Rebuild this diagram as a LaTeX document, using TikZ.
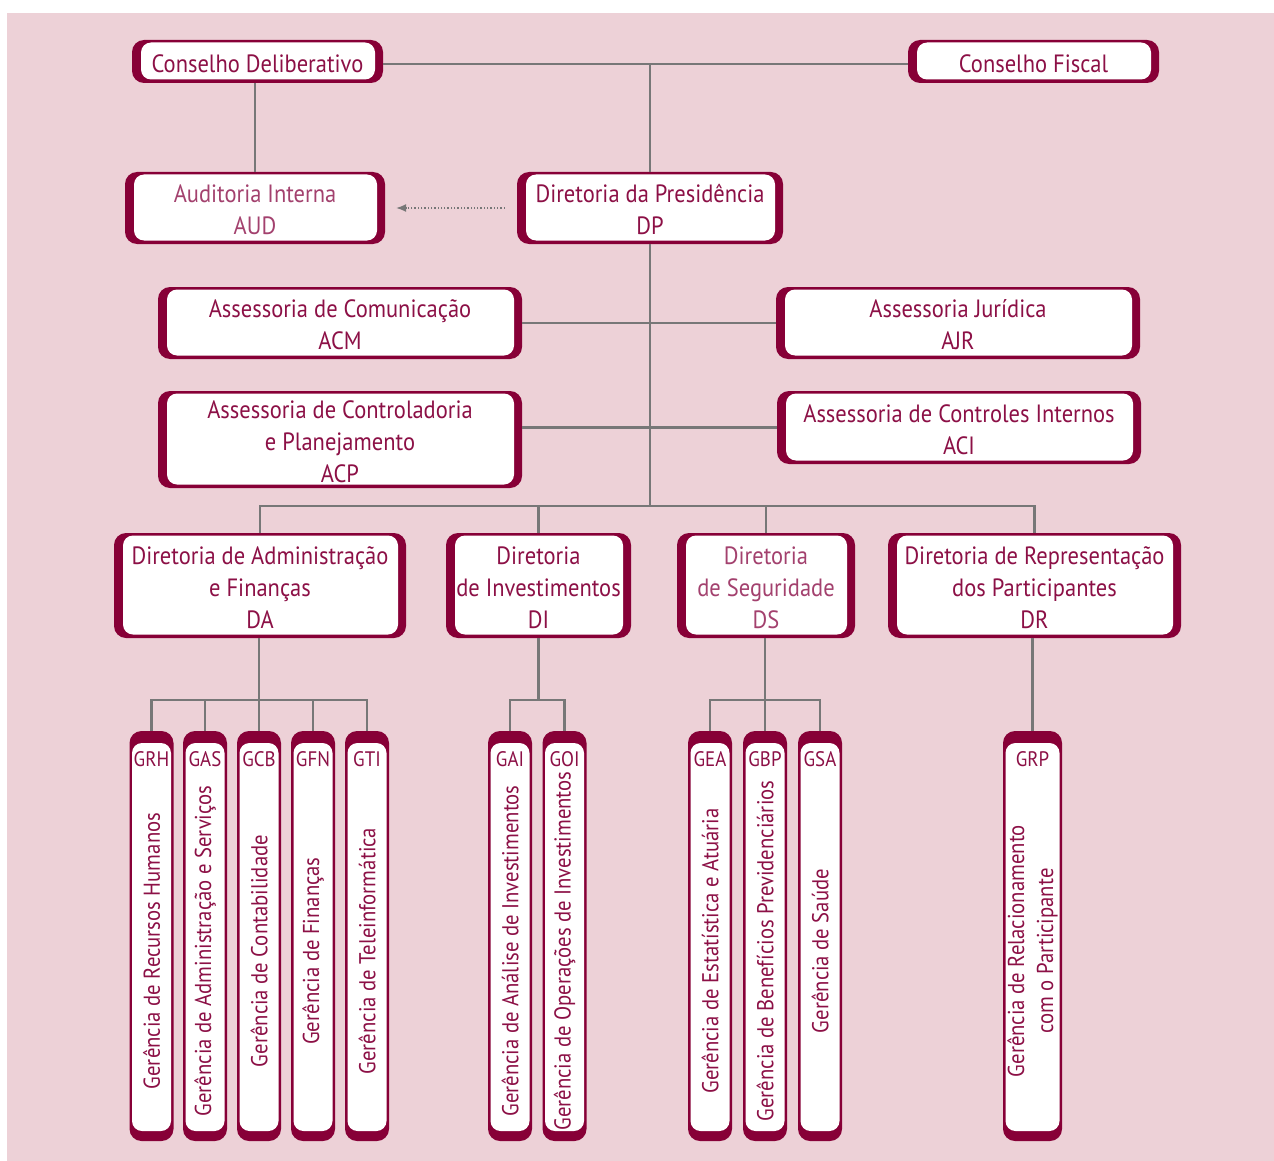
\documentclass[tikz,border=0pt]{standalone}
\usepackage{fontspec}
\setmainfont{PT Sans}[FakeStretch=0.9]
\usetikzlibrary{arrows.meta}
\definecolor{bgpink}{HTML}{EDD1D7}
\definecolor{boxred}{HTML}{870037}
\definecolor{txtred}{HTML}{8C1046}
\definecolor{txtlight}{HTML}{A3416E}
\definecolor{linegray}{HTML}{777777}
\newcommand{\topstrut}{\rule{0pt}{22pt}}
\tikzset{
  box/.style={fill=boxred, rounded corners=12pt, inner sep=0pt, align=center, text=txtred,
    font=\fontsize{25}{32}\selectfont,
    path picture={\fill[white, rounded corners=10pt]
      ([xshift=9pt,yshift=-2.5pt]path picture bounding box.north west) rectangle
      ([xshift=-8pt,yshift=3.5pt]path picture bounding box.south east);}},
  vbox/.style={fill=boxred, rounded corners=12pt, inner sep=0pt, minimum height=410pt, minimum width=44pt,
    path picture={\fill[white, rounded corners=10pt]
      ([xshift=2.5pt,yshift=-12pt]path picture bounding box.north west) rectangle
      ([xshift=-2.5pt,yshift=10pt]path picture bounding box.south east);}},
  abbr/.style={text=txtred, font=\fontsize{21}{24}\selectfont, inner sep=0pt, anchor=base},
  vtext/.style={text=txtred, font=\fontsize{23}{29}\selectfont, inner sep=0pt, rotate=90, align=center},
  conn/.style={draw=linegray, line width=2.2pt},
  dotarrow/.style={draw=linegray, line width=1.3pt, dotted, -{Latex[length=10pt,width=8pt]}},
}
\begin{document}
\begin{tikzpicture}[x=1pt,y=-1pt]
\useasboundingbox (0,0) rectangle (1274,1161);
\fill[bgpink] (7,13) rectangle (1274,1161);

% top level
\node[box, minimum width=251pt, minimum height=43pt] (cd) at (257.5,61.5) {\topstrut Conselho Deliberativo};
\node[box, minimum width=251pt, minimum height=43pt] (cf) at (1033.5,61.5) {\topstrut Conselho Fiscal};
\node[box, minimum width=260pt, minimum height=72pt, text=txtlight] (aud) at (255,208) {\topstrut Auditoria Interna\\AUD};
\node[box, minimum width=266pt, minimum height=72pt] (dp) at (650,208) {\topstrut Diretoria da Presidência\\DP};

\node[box, minimum width=364pt, minimum height=72pt] (acm) at (340,323) {\topstrut Assessoria de Comunicação\\ACM};
\node[box, minimum width=364pt, minimum height=72pt] (ajr) at (958,323) {\topstrut Assessoria Jurídica\\AJR};
\node[box, minimum width=364pt, minimum height=97pt] (acp) at (340,439.5) {\topstrut Assessoria de Controladoria\\e Planejamento\\ACP};
\node[box, minimum width=364pt, minimum height=73pt] (aci) at (959,427.5) {\topstrut Assessoria de Controles Internos\\ACI};

\node[box, minimum width=292pt, minimum height=105pt] (da) at (260,585.5) {\topstrut Diretoria de Administração\\e Finanças\\DA};
\node[box, minimum width=185pt, minimum height=105pt] (di) at (538.5,585.5) {\topstrut Diretoria\\de Investimentos\\DI};
\node[box, minimum width=178pt, minimum height=105pt, text=txtlight] (ds) at (766,585.5) {\topstrut Diretoria\\de Seguridade\\DS};
\node[box, minimum width=293pt, minimum height=105pt] (dr) at (1034.5,585.5) {\topstrut Diretoria de Representação\\dos Participantes\\DR};

% vertical boxes
\node[vbox] (grh) at (151.5,936) {};
\node[vbox] (gas) at (205,936) {};
\node[vbox] (gcb) at (259,936) {};
\node[vbox] (gfn) at (313,936) {};
\node[vbox] (gti) at (367,936) {};
\node[vbox] (gai) at (510,936) {};
\node[vbox] (goi) at (564.5,936) {};
\node[vbox] (gea) at (710,936) {};
\node[vbox] (gbp) at (765,936) {};
\node[vbox] (gsa) at (820,936) {};
\node[vbox, minimum width=59pt] (grp) at (1032.5,936) {};

\node[abbr] (grhA) at (151.5,766) {GRH};
\node[abbr] (gasA) at (205,766) {GAS};
\node[abbr] (gcbA) at (259,766) {GCB};
\node[abbr] (gfnA) at (313,766) {GFN};
\node[abbr] (gtiA) at (367,766) {GTI};
\node[abbr] (gaiA) at (510,766) {GAI};
\node[abbr] (goiA) at (564.5,766) {GOI};
\node[abbr] (geaA) at (710,766) {GEA};
\node[abbr] (gbpA) at (765,766) {GBP};
\node[abbr] (gsaA) at (820,766) {GSA};
\node[abbr] (grpA) at (1032.5,766) {GRP};

\node[vtext] (grhT) at (151.5,951) {Gerência de Recursos Humanos};
\node[vtext] (gasT) at (205,951) {Gerência de Administração e Serviços};
\node[vtext] (gcbT) at (259,951) {Gerência de Contabilidade};
\node[vtext] (gfnT) at (313,951) {Gerência de Finanças};
\node[vtext] (gtiT) at (367,951) {Gerência de Teleinformática};
\node[vtext] (gaiT) at (510,951) {Gerência de Análise de Investimentos};
\node[vtext] (goiT) at (564.5,951) {Gerência de Operações de Investimentos};
\node[vtext] (geaT) at (710,951) {Gerência de Estatística e Atuária};
\node[vtext] (gbpT) at (765,951) {Gerência de Benefícios Previdenciários};
\node[vtext] (gsaT) at (820,951) {Gerência de Saúde};
\node[vtext] (grpT) at (1032.5,951) {Gerência de Relacionamento\\com o Participante};

% connectors
\coordinate (b1) at (650,506);
\draw[conn] (cd.east |- 0,64) -- (cf.west |- 0,64);
\draw[conn] (dp.north) -- (dp.north |- 0,64);
\draw[conn] (aud.north) -- (aud.north |- cd.south);
\draw[dotarrow] ([xshift=-12pt]dp.west) -- ([xshift=11pt]aud.east);
\draw[conn] (dp.south) -- (b1);
\draw[conn] (acm.east) -- (ajr.west);
\draw[conn] (aci.west) -- (aci.west -| acp.east);
\draw[conn] (da.north) |- (b1) -| (dr.north);
\draw[conn] (di.north) -- (di.north |- b1);
\draw[conn] (ds.north) -- (ds.north |- b1);

\draw[conn] (grh.north) -- ++(0,-31) -| (gti.north);
\draw[conn] (gcb.north) -- (gcb.north |- da.south);
\draw[conn] (gas.north) -- ++(0,-31);
\draw[conn] (gfn.north) -- ++(0,-31);

\draw[conn] (gai.north) -- ++(0,-31) -| (goi.north);
\draw[conn] (di.south) -- (di.south |- 0,700);

\draw[conn] (gea.north) -- ++(0,-31) -| (gsa.north);
\draw[conn] (gbp.north) -- (gbp.north |- ds.south);

\draw[conn] (grp.north) -- (grp.north |- dr.south);
\end{tikzpicture}
\end{document}
